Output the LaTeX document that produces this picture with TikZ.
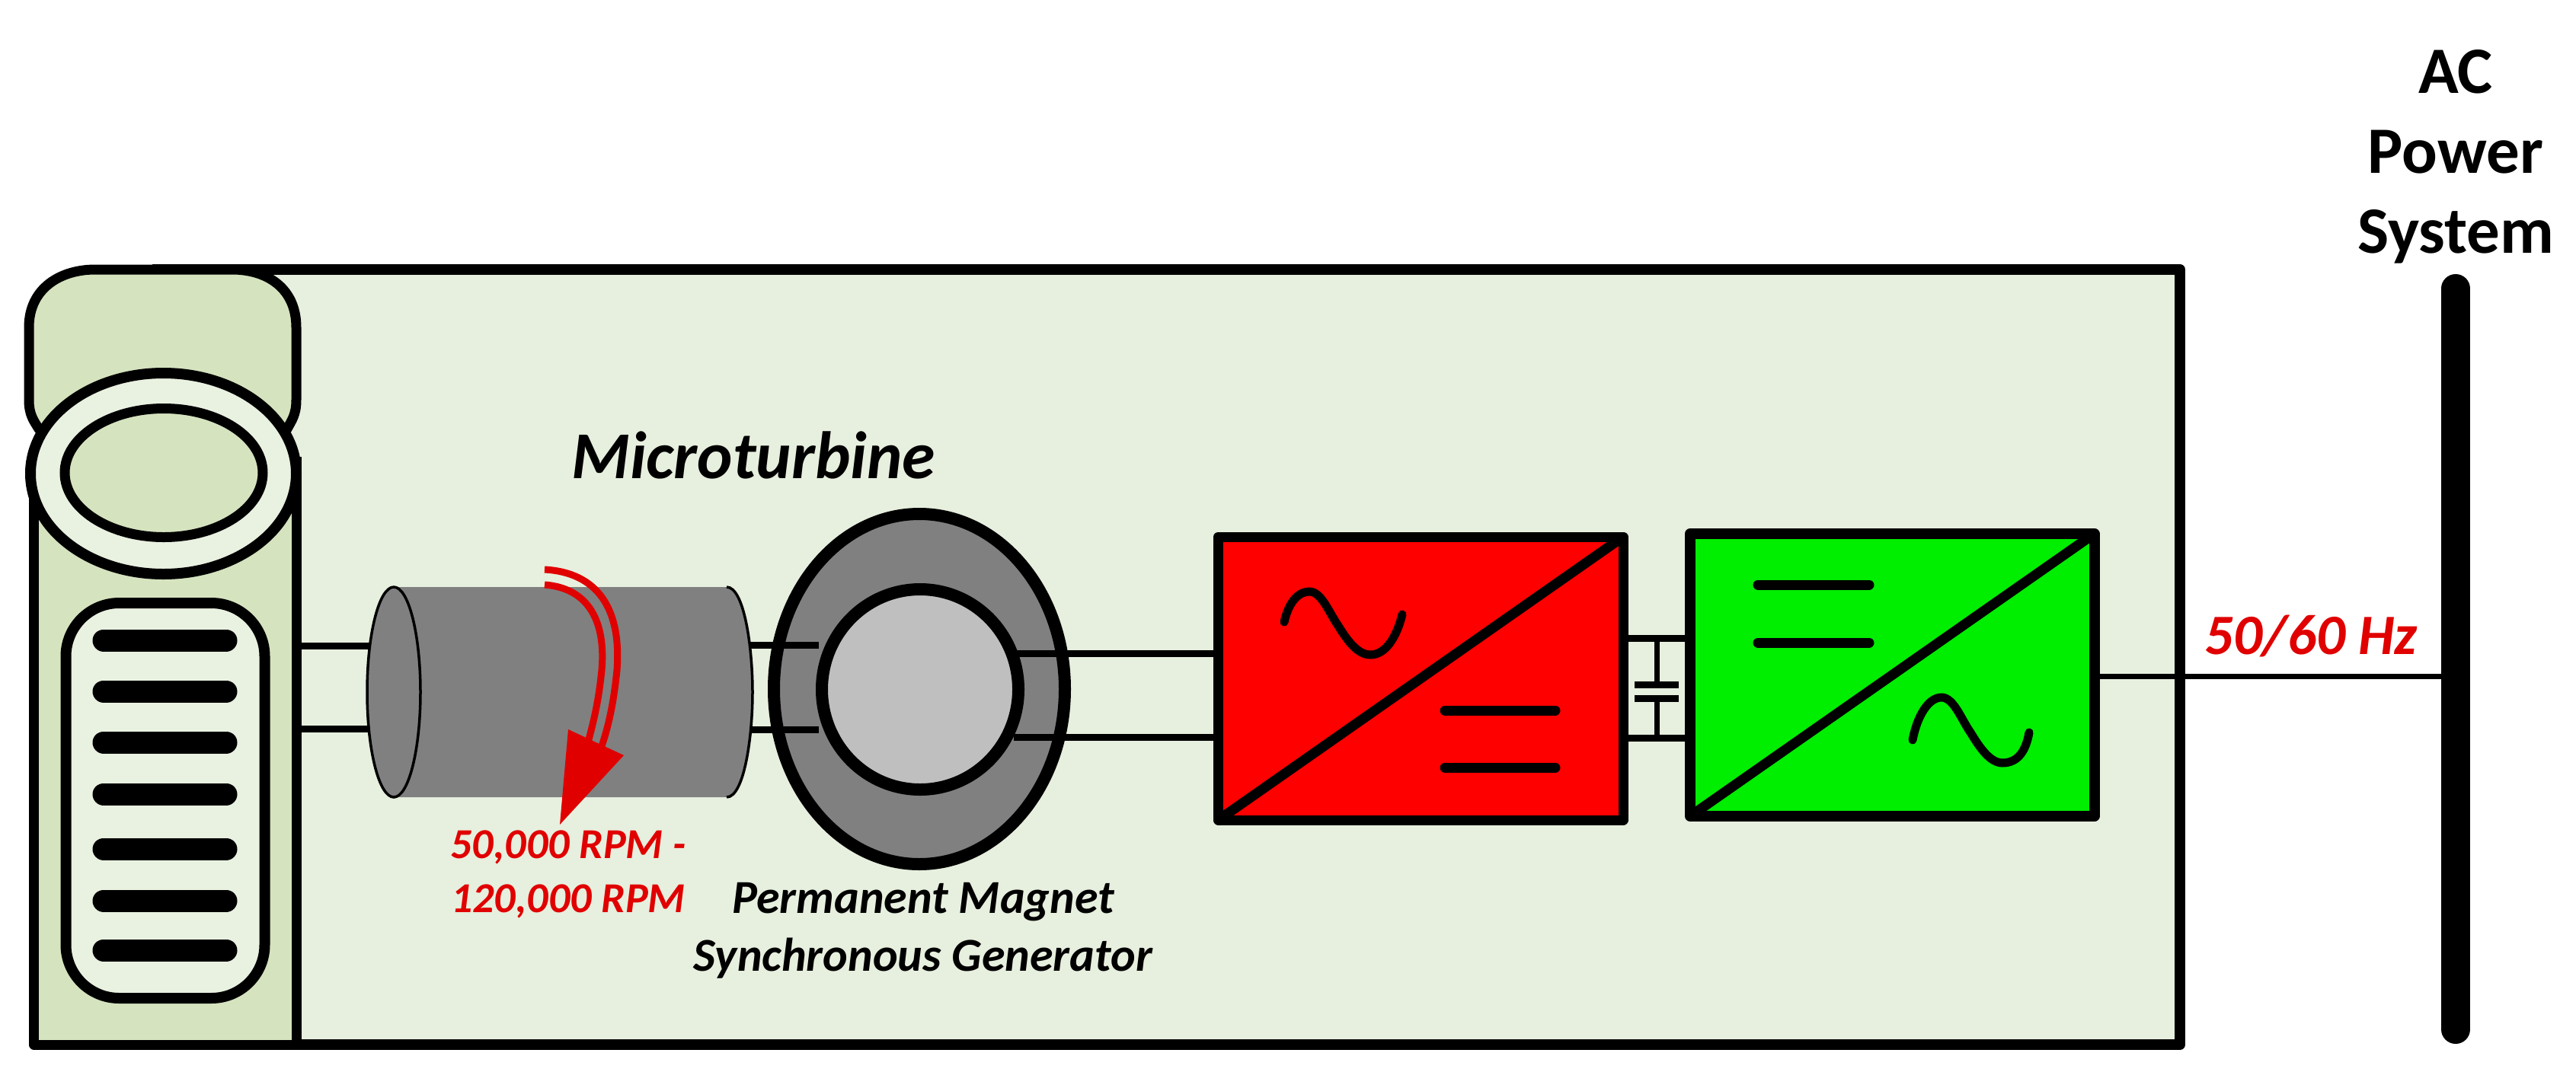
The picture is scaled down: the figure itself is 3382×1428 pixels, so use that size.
\documentclass[tikz,border=0pt]{standalone}
\usepackage{fontspec}
\setmainfont{Carlito}
\usetikzlibrary{shapes.geometric}
\definecolor{boxbg}{HTML}{E7EFDE}
\definecolor{coldark}{HTML}{D5E3BF}
\definecolor{collight}{HTML}{E9F1E1}
\definecolor{rotorgray}{HTML}{BFBFBF}
\definecolor{steel}{HTML}{808080}
\definecolor{redtext}{HTML}{E00000}
\definecolor{convred}{HTML}{FF0000}
\definecolor{convgreen}{HTML}{00EE00}
\tikzset{
 x=1pt,y=-1pt,
 every node/.style={outer sep=0pt},
 shaft/.style={draw=black,line width=9pt},
 thickline/.style={draw=black,line width=13pt,line join=round},
 bar/.style={draw=black,line width=13pt,line cap=round},
 slot/.style={draw=black,line width=29pt,line cap=round},
 wave/.style={draw=black,line width=11pt,line cap=round},
 conv/.style={draw=black,line width=13pt,rectangle,inner sep=0pt,line join=round},
 spin/.style={draw=redtext,line width=9pt},
 lab/.style={inner sep=0pt,align=center},
 head/.style={inner sep=0pt,anchor=base,font=\fontsize{87}{87}\selectfont\bfseries},
}
\begin{document}
\begin{tikzpicture}
\useasboundingbox (0,0) rectangle (3382,1428);
% enclosure
\node[fill=boxbg,rectangle,inner sep=0pt,minimum width=2600pt,minimum height=1018pt,anchor=north west] (enclosure) at (262,354) {};
\draw[line width=14pt,line join=round] (200,354) -- (enclosure.north east) -- (enclosure.south east) -- (44,1372);
% column
\path[thickline,fill=coldark] (52,565) .. controls (44,552) and (38,545) .. (38,525) -- (38,430) .. controls (38,378) and (80,354) .. (125,354) -- (305,354) .. controls (350,354) and (389,378) .. (389,430) -- (389,525) .. controls (389,545) and (383,552) .. (376,565);
\fill[boxbg] (396,600) rectangle (470,1365);
\path[thickline,fill=coldark] (44.5,640) -- (44.5,1372) -- (389.5,1372) -- (389.5,600);
\node[ellipse,draw=black,fill=collight,line width=14pt,inner sep=0pt,minimum width=349pt,minimum height=264pt] (ring) at (214.5,622) {};
\node[ellipse,draw=black,fill=coldark,line width=13pt,inner sep=0pt,minimum width=260pt,minimum height=169pt] (intake) at (215,621) {};
\node[rectangle,rounded corners=70pt,draw=black,fill=collight,line width=14pt,inner sep=0pt,minimum width=261pt,minimum height=519pt] (grille) at (217,1051.5) {};
\foreach \y in {841,908,975,1043,1115,1183,1248}
  \draw[slot] (136,\y) -- (297,\y);
% turbine
\coordinate (sL1) at (396,848); \coordinate (sL2) at (396,957);
\coordinate (cL1) at (490,848); \coordinate (cL2) at (490,957);
\coordinate (cR1) at (985,847); \coordinate (cR2) at (985,958);
\draw[shaft] (sL1) -- (cL1);
\draw[shaft] (sL2) -- (cL2);
\fill[steel] (518,771) -- (954,771) .. controls (977,771) and (988,850) .. (988,909) .. controls (988,968) and (977,1047) .. (954,1047) -- (518,1047) -- cycle;
\draw[black,line width=3.5pt] (954,771) .. controls (977,771) and (988,850) .. (988,909) .. controls (988,968) and (977,1047) .. (954,1047);
\node[ellipse,draw=black,fill=steel,line width=3.5pt,inner sep=0pt,minimum width=70pt,minimum height=276pt] (cylend) at (517,909) {};
% generator
\node[ellipse,draw=black,fill=steel,line width=16pt,inner sep=0pt,minimum width=382pt,minimum height=460pt] (stator) at (1207,905) {};
\coordinate (gR1) at (1331,858); \coordinate (gR2) at (1331,968);
\draw[shaft] (cR1) -- (1075,847);
\draw[shaft] (cR2) -- (1075,958);
\draw[shaft] (gR1) -- (1600,858);
\draw[shaft] (gR2) -- (1600,968);
\node[ellipse,draw=black,fill=rotorgray,line width=16pt,inner sep=0pt,minimum width=258pt,minimum height=263pt] (rotor) at (1208,905.5) {};
% rotation arrow
\draw[spin] (715,748) .. controls (785,752) and (816,800) .. (810,880) .. controls (806,920) and (800,950) .. (790,980);
\draw[spin] (715,768) .. controls (768,772) and (796,810) .. (790,880) .. controls (786,920) and (780,945) .. (772,975);
\fill[redtext] (746,958) -- (819,992) -- (735,1083) -- cycle;
% converters
\node[conv,fill=convred,minimum width=531.5pt,minimum height=372pt,anchor=north west] (rect) at (1599.5,705) {};
\node[conv,fill=convgreen,line width=14pt,minimum width=530.5pt,minimum height=371pt,anchor=north west] (inv) at (2219,701) {};
\draw[thickline] (rect.south west) -- (rect.north east);
\draw[thickline] (inv.south west) -- (inv.north east);
\path[wave] (1686,817) .. controls (1692,790) and (1705,777) .. (1719,777) .. controls (1735,777) and (1745,805) .. (1757,822) .. controls (1768,840) and (1782,860) .. (1799,860) .. controls (1820,860) and (1834,835) .. (1841,807);
\path[wave] (2511,972) .. controls (2517,940) and (2532,916) .. (2549,916) .. controls (2565,916) and (2575,945) .. (2587,962) .. controls (2598,980) and (2612,1002) .. (2629,1002) .. controls (2650,1002) and (2660,985) .. (2664,962);
\draw[bar] (1897,933) -- (2042,933);
\draw[bar] (1897,1008) -- (2042,1008);
\draw[bar] (2308,768) -- (2454,768);
\draw[bar] (2308,844) -- (2454,844);
% DC link
\coordinate (cp1) at (2175,899.5); \coordinate (cp2) at (2175,917.5);
\draw[shaft] (rect.east |- 0,838) -- (inv.west |- 0,838);
\draw[shaft] (rect.east |- 0,969) -- (inv.west |- 0,969);
\draw[line width=7pt] (2175,838) -- (cp1);
\draw[line width=7pt] (cp2) -- (2175,969);
\draw[shaft] (2146,899.5) -- (2204,899.5);
\draw[shaft] (2146,917.5) -- (2204,917.5);
% bus
\coordinate (busT) at (3224,379); \coordinate (busB) at (3224,1352);
\draw[line width=38pt,line cap=round] (busT) -- (busB);
\draw[line width=7pt] (inv.east |- 0,888) -- (busT |- 0,888);
% labels
\node[lab,font=\fontsize{88}{88}\selectfont\bfseries\itshape] (title) at (989,598) {Microturbine};
\node[lab,text=redtext,font=\fontsize{56}{71}\selectfont\bfseries\itshape] (speed) at (746,1148) {50,000 RPM -\\120,000 RPM};
\node[lab,font=\fontsize{62}{76}\selectfont\bfseries\itshape] (pmsg) at (1212,1222) {Permanent Magnet\\Synchronous Generator};
\node[lab,text=redtext,font=\fontsize{75}{75}\selectfont\bfseries\itshape] (freq) at (3034,835) {50/60 Hz};
\node[head] (t1) at (3224,122) {AC};
\node[head] (t2) at (3224,227) {Power};
\node[head] (t3) at (3224,332) {System};
\end{tikzpicture}
\end{document}
